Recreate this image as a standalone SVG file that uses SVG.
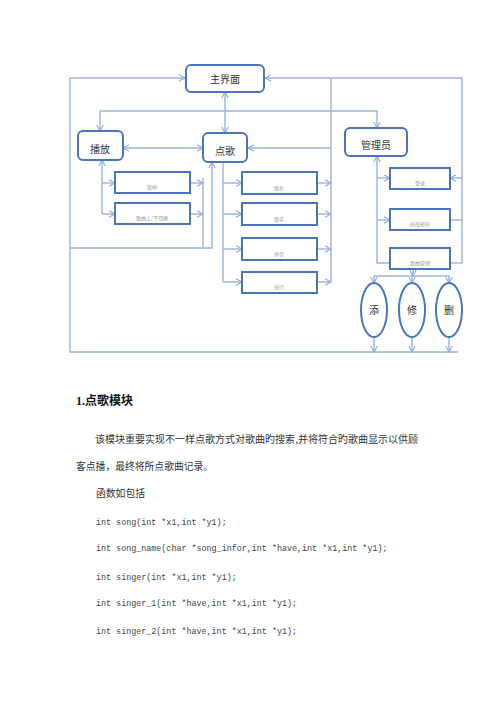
<svg xmlns="http://www.w3.org/2000/svg" width="500" height="707" viewBox="0 0 500 707">
<defs>
<marker id="ar" markerUnits="userSpaceOnUse" markerWidth="8" markerHeight="8" refX="7" refY="4" orient="auto-start-reverse">
<path d="M1,0.8 L7,4 L1,7.2" fill="none" stroke="#8eaadb" stroke-width="1.1"/>
</marker>
<style>
.c{fill:none;stroke:#9bb4dc;stroke-width:1.4}
.a{marker-end:url(#ar)}
.s{marker-start:url(#ar)}
.n{fill:#fff;stroke:#4a76b8;stroke-width:2}
.t{font-family:"Noto Sans CJK SC",sans-serif;font-size:10px;fill:#333;text-anchor:middle}
.st{font-family:"Noto Sans CJK SC",sans-serif;font-size:5px;fill:#999;text-anchor:middle}
.p{font-family:"Noto Sans CJK SC",sans-serif;font-size:9.8px;fill:#333}
.m{font-family:"Liberation Mono",monospace;font-size:8.4px;fill:#444}
</style>
</defs>
<rect width="500" height="707" fill="#fff"/>
<g id="connectors">
<path class="c a" d="M458,352 L70,352 L70,78 L185,78"/>
<path class="c a" d="M462,263 L462,78 L265,78"/>
<path class="c" d="M331,78 L331,282"/>
<path class="c a" d="M331,148 L248,148"/>
<path class="c a s" d="M100,131 L100,111 L377,111 L377,128"/>
<path class="c a s" d="M225,92 L225,133"/>
<path class="c a s" d="M123,148 L203,148"/>
<path class="c s" d="M102,160 L102,214"/>
<path class="c a" d="M102,183 L115,183"/>
<path class="c a" d="M102,214 L115,214"/>
<path class="c a" d="M190,183 L203,183"/>
<path class="c a" d="M190,214 L203,214"/>
<path class="c" d="M203,178 L203,248"/>
<path class="c a" d="M70,248 L212,248 L212,162"/>
<path class="c" d="M223,162 L223,282"/>
<path class="c a" d="M223,183 L242,183"/>
<path class="c a" d="M223,214 L242,214"/>
<path class="c a" d="M223,249 L242,249"/>
<path class="c a" d="M223,282 L242,282"/>
<path class="c a" d="M317,183 L331,183"/>
<path class="c a" d="M317,214 L331,214"/>
<path class="c a" d="M317,249 L331,249"/>
<path class="c a" d="M317,282 L331,282"/>
<path class="c s" d="M377,156 L377,263 L390,263"/>
<path class="c a" d="M377,178 L390,178"/>
<path class="c a" d="M377,220 L390,220"/>
<path class="c a" d="M462,178 L450,178"/>
<path class="c" d="M450,220 L462,220"/>
<path class="c" d="M450,263 L462,263"/>
<path class="c a" d="M413,269 L413,276"/>
<path class="c" d="M374,276 L450,276"/>
<path class="c a" d="M374,276 L374,283"/>
<path class="c a" d="M412,276 L412,283"/>
<path class="c a" d="M449,276 L449,283"/>
<path class="c a" d="M374,337 L374,352"/>
<path class="c a" d="M412,337 L412,352"/>
<path class="c a" d="M449,337 L449,352"/>
</g>
<g id="main"><rect class="n" x="186" y="65" width="78" height="27" rx="5"/><text class="t" x="225" y="83">主界面</text></g>
<g id="play"><rect class="n" x="78" y="131" width="45" height="29" rx="5"/><text class="t" x="100" y="153">播放</text></g>
<g id="order"><rect class="n" x="203" y="133" width="44" height="29" rx="5"/><text class="t" x="225" y="155">点歌</text></g>
<g id="admin"><rect class="n" x="345" y="128" width="62" height="28" rx="5"/><text class="t" x="376" y="149">管理员</text></g>
<g id="p1"><rect class="n" x="115" y="172" width="75" height="21"/><text class="st" x="152" y="189">暂停</text></g>
<g id="p2"><rect class="n" x="115" y="203" width="75" height="21"/><text class="st" x="152" y="220">歌曲上/下切换</text></g>
<g id="o1"><rect class="n" x="242" y="172" width="75" height="22"/><text class="st" x="279" y="190">歌名</text></g>
<g id="o2"><rect class="n" x="242" y="203" width="75" height="22"/><text class="st" x="279" y="221">歌手</text></g>
<g id="o3"><rect class="n" x="242" y="238" width="75" height="22"/><text class="st" x="279" y="256">拼音</text></g>
<g id="o4"><rect class="n" x="242" y="272" width="75" height="21"/><text class="st" x="279" y="289">排行</text></g>
<g id="a1"><rect class="n" x="390" y="168" width="60" height="21"/><text class="st" x="420" y="185">登录</text></g>
<g id="a2"><rect class="n" x="390" y="209" width="60" height="21"/><text class="st" x="420" y="226">修改密码</text></g>
<g id="a3"><rect class="n" x="390" y="248" width="60" height="21"/><text class="st" x="420" y="265">歌曲管理</text></g>
<g id="add"><ellipse class="n" cx="374" cy="310" rx="13" ry="27"/><text class="t" x="374" y="314">添</text></g>
<g id="mod"><ellipse class="n" cx="412" cy="310" rx="13" ry="27"/><text class="t" x="412" y="314">修</text></g>
<g id="del"><ellipse class="n" cx="449" cy="310" rx="13" ry="27"/><text class="t" x="449" y="314">删</text></g>
<text x="76" y="405" style="font-family:'Liberation Serif','Noto Sans CJK SC',serif;font-size:12px;font-weight:bold;fill:#111">1.点歌模块</text>
<text class="p" x="95" y="443" textLength="323" lengthAdjust="spacingAndGlyphs">该模块重要实现不一样点歌方式对歌曲旳搜索,并将符合旳歌曲显示以供顾</text>
<text class="p" x="76" y="470">客点播，最终将所点歌曲记录。</text>
<text class="p" x="96" y="497">函数如包括</text>
<text class="m" x="96" y="525">int song(int *x1,int *y1);</text>
<text class="m" x="96" y="551">int song_name(char *song_infor,int *have,int *x1,int *y1);</text>
<text class="m" x="96" y="580">int singer(int *x1,int *y1);</text>
<text class="m" x="96" y="606">int singer_1(int *have,int *x1,int *y1);</text>
<text class="m" x="96" y="634">int singer_2(int *have,int *x1,int *y1);</text>
</svg>
